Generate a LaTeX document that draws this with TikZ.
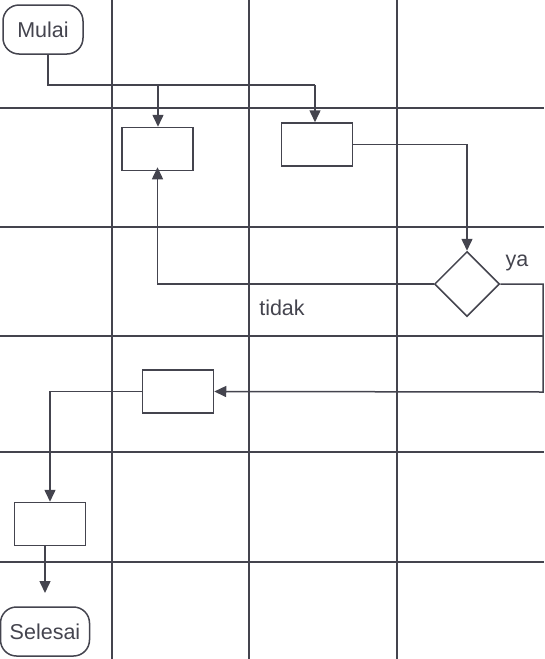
\documentclass[tikz,border=0pt]{standalone}
\usepackage{fontspec}
\setmainfont{Liberation Sans}
\usetikzlibrary{arrows.meta,shapes.geometric}
\definecolor{ink}{RGB}{68,68,78}
\begin{document}
\begin{tikzpicture}[x=1pt,y=-1pt,
  every node/.style={font=\fontsize{21.5}{25}\selectfont, text=ink},
  grid/.style={draw=ink, line width=1.1pt},
  flow/.style={draw=ink, line width=1.5pt},
  arr/.style={flow, -{Triangle[length=12pt,width=11pt]}},
  procbox/.style={draw=ink, line width=1.5pt, minimum width=71pt, minimum height=43pt, inner sep=0pt},
  term/.style={draw=ink, line width=1.5pt, rounded corners=16pt, minimum height=49pt, inner sep=0pt},
  decision/.style={draw=ink, line width=1.5pt, diamond, aspect=1, minimum width=65pt, minimum height=65pt, inner sep=0pt}]
\useasboundingbox (0,0) rectangle (544,659);
% grid
\foreach \x in {112,249,397} \draw[grid] (\x,0) -- (\x,659);
\foreach \y in {108,227,336,452,562} \draw[grid] (0,\y) -- (544,\y);
% nodes
\node[term, minimum width=80pt] (mulai) at (43,29.5) {Mulai};
\node[term, minimum width=89pt] (selesai) at (45,631.5) {Selesai};
\node[procbox] (b1) at (157.5,149) {};
\node[procbox] (b2) at (317,144.5) {};
\node[decision] (dia) at (467,284) {};
\node[procbox] (b3) at (178,391.5) {};
\node[procbox] (b4) at (50,524) {};
\node (ya) at (517,263) {ya};
\node (tidak) at (282,308) {tidak};
% coordinates
\coordinate (j1) at (48,85);
\coordinate (j2) at (315,85);
\coordinate (j3) at (158,85);
\coordinate (r1) at (543,392);
\coordinate (s1) at (45,545);
\coordinate (s2) at (45,593);
% connectors
\draw[flow] (mulai.south -| j1) -- (j1) -- (j2);
\draw[arr] (j2) -- (j2 |- b2.north);
\draw[arr] (j3) -- (j3 |- b1.north);
\draw[arr] (b2.east) -| (dia.north);
\draw[arr] (dia.west) -| ([yshift=4pt]b1.south);
\draw[arr] (dia.east) -| (r1) -- (b3.east);
\draw[arr] (b3.west) -| (b4.north);
\draw[arr] (s1) -- (s2);
\end{tikzpicture}
\end{document}
